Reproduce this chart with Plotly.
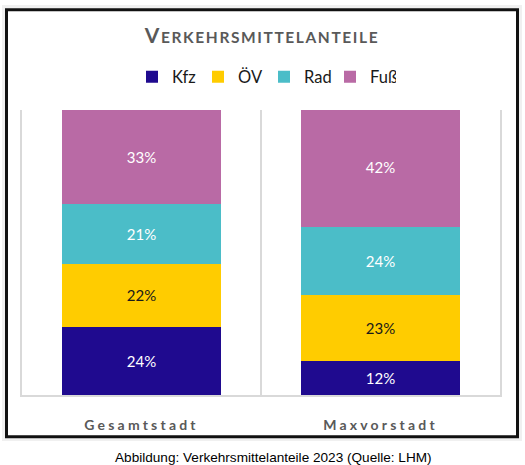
import plotly.graph_objects as go

categories = ["Gesamtstadt", "Maxvorstadt"]
modes = ["Kfz", "ÖV", "Rad", "Fuß"]
kfz = [24, 12]
oev = [22, 23]
rad = [21, 24]
fuss = [33, 42]
series_values = [kfz, oev, rad, fuss]
colors = ["#1f0a8f", "#ffcc00", "#4bbdc8", "#b96aa5"]
label_colors = ["white", "#1a1a1a", "white", "white"]

W, H = 525, 465
ML, MR, MT, MB = 22, 25, 110, 70
PW, PH = W - ML - MR, H - MT - MB


def px_x(px):
    return (px - ML) / PW


def px_y(py):
    return (H - MB - py) / PH


fig = go.Figure()
for name, vals, col, lc in zip(modes, series_values, colors, label_colors):
    fig.add_trace(go.Bar(
        name=name, x=categories, y=vals,
        marker=dict(color=col, line=dict(width=0)),
        texttemplate="%{y}%", textposition="inside", insidetextanchor="middle",
        textangle=0, constraintext="none",
        textfont=dict(family="Lato, Open Sans, sans-serif", size=15, color=lc),
        hoverinfo="skip",
    ))

title_txt = ('<span style="letter-spacing:1.6px">'
             '<span style="font-size:21px">V</span>'
             '<span style="font-size:15.5px">ERKEHRSMITTELANTEILE</span></span>')

fig.update_layout(
    width=W, height=H,
    margin=dict(l=ML, r=MR, t=MT, b=MB, pad=0),
    barmode="stack", bargap=0.335,
    paper_bgcolor="white", plot_bgcolor="rgba(0,0,0,0)",
    title=dict(text="<b>" + title_txt + "</b>", x=px_x(262), xref="paper", xanchor="center",
               y=1 - 37 / H, yref="container", yanchor="middle",
               font=dict(family="Lato, Open Sans, sans-serif", color="#595959")),
    legend=dict(orientation="h", x=px_x(264), xanchor="center", y=px_y(77), yanchor="middle",
                font=dict(family="Lato, Open Sans, sans-serif", size=16.5, color="#1a1a1a"),
                itemwidth=30, entrywidth=21, entrywidthmode="pixels",
                traceorder="normal", bgcolor="rgba(0,0,0,0)"),
    xaxis=dict(type="category", tickson="boundaries", showgrid=True, gridcolor="#d9d9d9",
               gridwidth=1.5, showline=True, linecolor="#d9d9d9", linewidth=1.5,
               ticks="", ticklabelstandoff=16,
               tickfont=dict(family="Lato, Open Sans, sans-serif", size=14, color="#595959", weight="bold"),
               ticktext=['<span style="letter-spacing:3.2px">' + c + '</span>' for c in categories],
               tickvals=categories, fixedrange=True),
    yaxis=dict(range=[0, 100], showgrid=False, zeroline=False, showticklabels=False,
               showline=True, mirror=True, linecolor="#d9d9d9", linewidth=1.5, ticks="",
               fixedrange=True),
    shapes=[
        dict(type="rect", xref="paper", yref="paper", x0=px_x(2), x1=px_x(522),
             y0=px_y(441), y1=px_y(5), fillcolor="#f0f0f0", line=dict(width=0), layer="below"),
        dict(type="rect", xref="paper", yref="paper", x0=px_x(6.5), x1=px_x(517.5),
             y0=px_y(436.8), y1=px_y(9.8), fillcolor="white",
             line=dict(color="#111111", width=3), layer="below"),
    ],
    annotations=[
        dict(text="Abbildung: Verkehrsmittelanteile 2023 (Quelle: LHM)", xref="paper", yref="paper",
             x=px_x(273.5), y=px_y(457), xanchor="center", yanchor="middle", showarrow=False,
             font=dict(family="Liberation Sans, Arial, sans-serif", size=13.6, color="#000000")),
    ],
)

fig.write_html("out.html", config={"displayModeBar": False},
               post_script="document.body.style.margin='0';document.body.style.padding='0';"
                           "document.documentElement.style.overflow='hidden';")
